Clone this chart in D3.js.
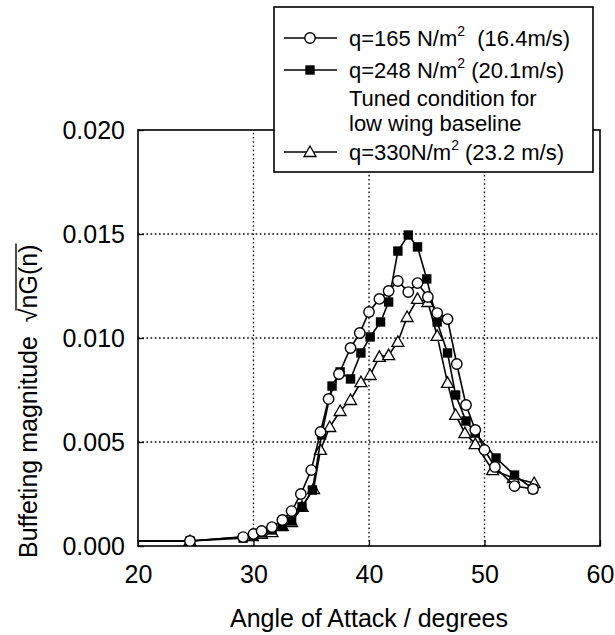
<!DOCTYPE html>
<html>
<head>
<meta charset="utf-8">
<script src="https://cdn.jsdelivr.net/npm/d3@7"></script>
<style>
  body { margin: 0; background: #fff; }
  svg { display: block; font-family: "Liberation Sans", Arial, sans-serif; }
  text { white-space: pre; }
</style>
</head>
<body>
<div id="chart"></div>
<script>
// angle of attack (deg) and buffeting magnitude
const aoa165 = [19.5, 24.5, 29.1, 30.0, 30.7, 31.6, 32.5, 33.3, 34.1, 35.0, 35.8, 36.5, 37.4, 38.4, 39.2, 40.0, 40.9, 41.7, 42.5, 43.4, 44.2, 45.1, 45.9, 46.8, 47.6, 48.4, 49.2, 50.0, 50.9, 52.6, 54.2];
const mag165 = [0.00024, 0.00024, 0.00043, 0.00058, 0.00072, 0.00091, 0.00125, 0.00168, 0.0025, 0.00365, 0.00548, 0.00707, 0.00827, 0.00952, 0.01024, 0.01125, 0.01188, 0.01226, 0.01274, 0.01221, 0.01264, 0.01197, 0.0112, 0.01091, 0.00875, 0.00678, 0.00558, 0.00462, 0.0038, 0.00288, 0.00274];

const aoa248 = [19.5, 24.5, 29.1, 30.0, 30.7, 31.6, 32.5, 33.3, 34.2, 35.1, 35.9, 36.8, 37.5, 38.4, 39.3, 40.1, 41.0, 41.7, 42.5, 43.4, 44.2, 45.0, 45.9, 46.8, 47.5, 48.4, 49.2, 51.0, 52.6, 54.2];
const mag248 = [0.00024, 0.00024, 0.00038, 0.00048, 0.00063, 0.00077, 0.00096, 0.0012, 0.00188, 0.00269, 0.00534, 0.00769, 0.00837, 0.00803, 0.00928, 0.01005, 0.01077, 0.01173, 0.01418, 0.01495, 0.01438, 0.01284, 0.01077, 0.00928, 0.00726, 0.00601, 0.00543, 0.00423, 0.00341, 0.00274];

const aoa330 = [19.5, 24.5, 29.9, 30.7, 31.6, 32.5, 33.3, 34.2, 35.2, 35.8, 36.6, 37.5, 38.4, 39.3, 40.1, 40.9, 41.7, 42.5, 43.3, 44.2, 45.1, 45.9, 46.8, 47.5, 48.3, 49.2, 50.7, 52.5, 54.3];
const mag330 = [0.00024, 0.00024, 0.00048, 0.00058, 0.00067, 0.00096, 0.00115, 0.00188, 0.00274, 0.00462, 0.00572, 0.00649, 0.00702, 0.00788, 0.00822, 0.00909, 0.00918, 0.00981, 0.01101, 0.01188, 0.01173, 0.0101, 0.00784, 0.0063, 0.00543, 0.0049, 0.00365, 0.00327, 0.00303];

const xTicks = [20, 30, 40, 50, 60];
const yTicks = [0, 0.005, 0.01, 0.015, 0.02];

const legendRows = [
  { marker: "circle", pre: "q=165 N/m", post: "  (16.4m/s)" },
  { marker: "square", pre: "q=248 N/m", post: " (20.1m/s)" },
  { marker: "triangle", pre: "q=330N/m", post: " (23.2 m/s)" },
];
const legendNote = ["Tuned condition for", "low wing baseline"];

const width = 615, height = 635;
const margin = { top: 130, right: 15, bottom: 89, left: 138 };

const svg = d3.select("#chart").append("svg").attr("width", width).attr("height", height);

const x = d3.scaleLinear().domain([20, 60]).range([margin.left, width - margin.right]);
const y = d3.scaleLinear().domain([0, 0.02]).range([height - margin.bottom, margin.top]);

svg.append("defs").append("clipPath").attr("id", "plot")
  .append("rect")
  .attr("x", x(20)).attr("y", y(0.02) - 8)
  .attr("width", x(60) - x(20)).attr("height", y(0) - y(0.02) + 8);

// dotted grid
const grid = svg.append("g").attr("stroke", "#000").attr("stroke-width", 1.3).attr("stroke-dasharray", "1.6,2.6");
grid.selectAll(".gx").data(xTicks.slice(1, -1)).join("line")
  .attr("x1", (d) => x(d)).attr("x2", (d) => x(d)).attr("y1", y(0)).attr("y2", y(0.02));
grid.selectAll(".gy").data(yTicks.slice(1, -1)).join("line")
  .attr("y1", (d) => y(d)).attr("y2", (d) => y(d)).attr("x1", x(20)).attr("x2", x(60));

// inward axes
const xAxis = svg.append("g").attr("transform", `translate(0,${y(0)})`)
  .call(d3.axisBottom(x).tickValues(xTicks).tickSizeInner(-6).tickSizeOuter(0).tickPadding(19).tickFormat(d3.format("d")));
const yAxis = svg.append("g").attr("transform", `translate(${x(20)},0)`)
  .call(d3.axisLeft(y).tickValues(yTicks).tickSizeInner(-6).tickSizeOuter(0).tickPadding(13).tickFormat(d3.format(".3f")));
[xAxis, yAxis].forEach((a) => {
  a.select(".domain").remove();
  a.selectAll("line").attr("stroke", "#000").attr("stroke-width", 1.3);
  a.selectAll("text").attr("font-size", 25).attr("fill", "#000").attr("font-family", "Liberation Sans, Arial, sans-serif");
});

svg.append("rect")
  .attr("x", x(20)).attr("y", y(0.02))
  .attr("width", x(60) - x(20)).attr("height", y(0) - y(0.02))
  .attr("fill", "none").attr("stroke", "#000").attr("stroke-width", 1.6);

// markers
function drawMarker(g, type, cx, cy) {
  if (type === "circle") {
    g.append("circle").attr("cx", cx).attr("cy", cy).attr("r", 5.2)
      .attr("fill", "#fff").attr("stroke", "#000").attr("stroke-width", 1.4);
  } else if (type === "square") {
    g.append("rect").attr("x", cx - 4.7).attr("y", cy - 4.7).attr("width", 9.4).attr("height", 9.4).attr("fill", "#000");
  } else {
    const s = 6;
    g.append("path")
      .attr("d", `M${cx},${cy - s}L${cx + s},${cy + s * 0.75}L${cx - s},${cy + s * 0.75}Z`)
      .attr("fill", "#fff").attr("stroke", "#000").attr("stroke-width", 1.3);
  }
}

const series = [
  { xs: aoa330, ys: mag330, marker: "triangle" },
  { xs: aoa248, ys: mag248, marker: "square" },
  { xs: aoa165, ys: mag165, marker: "circle" },
];

const line = d3.line().x((d) => x(d[0])).y((d) => y(d[1]));
const plot = svg.append("g").attr("clip-path", "url(#plot)");
series.forEach((s) => {
  const pts = d3.zip(s.xs, s.ys);
  const g = plot.append("g");
  g.append("path").datum(pts).attr("d", line).attr("fill", "none").attr("stroke", "#000").attr("stroke-width", 1.6);
  pts.forEach((p) => drawMarker(g, s.marker, x(p[0]), y(p[1])));
});

// axis titles
svg.append("text").attr("x", (x(20) + x(60)) / 2).attr("y", 627).attr("text-anchor", "middle")
  .attr("font-size", 25).text("Angle of Attack / degrees");

const yTitle = svg.append("g").attr("transform", "translate(37,558) rotate(-90)");
const yt = yTitle.append("text").attr("font-size", 25);
yt.append("tspan").text("Buffeting magnitude  ");
yt.append("tspan").text("√");
yt.append("tspan").text("nG(n)");
const full = yt.text();
const iRoot = full.indexOf("√");
const node = yt.node();
const rootEnd = node.getSubStringLength(0, iRoot + 1);
const total = node.getComputedTextLength();
yTitle.append("line")
  .attr("x1", rootEnd - 2).attr("x2", total + 1)
  .attr("y1", -21).attr("y2", -21)
  .attr("stroke", "#000").attr("stroke-width", 1.4);

// legend
const lg = svg.append("g");
lg.append("rect").attr("x", 274).attr("y", 7).attr("width", 319).attr("height", 165)
  .attr("fill", "#fff").attr("stroke", "#000").attr("stroke-width", 1.6);
const rowY = [38, 70, 152];
legendRows.forEach((r, i) => {
  const cy = rowY[i];
  lg.append("line").attr("x1", 284).attr("x2", 337).attr("y1", cy).attr("y2", cy)
    .attr("stroke", "#000").attr("stroke-width", 1.6);
  drawMarker(lg, r.marker, 310, cy);
  const t = lg.append("text").attr("x", 349).attr("y", cy + 8).attr("font-size", 22);
  t.append("tspan").text(r.pre);
  t.append("tspan").attr("font-size", 14).attr("dy", -10).text("2");
  t.append("tspan").attr("dy", 10).text(r.post);
});
legendNote.forEach((s, i) => {
  lg.append("text").attr("x", 349).attr("y", 106 + i * 25).attr("font-size", 22).text(s);
});
</script>
</body>
</html>
